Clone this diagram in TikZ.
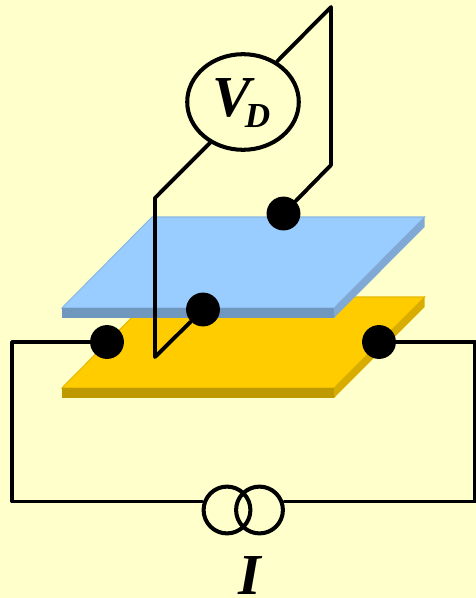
\documentclass[tikz,border=0pt]{standalone}
\usepackage{fontspec}
\setmainfont{Liberation Serif}
\usepackage{xcolor}
\usetikzlibrary{shapes.geometric}

\definecolor{paper}{HTML}{FFFFCC}
\definecolor{bluetop}{HTML}{99CCFF}
\definecolor{blueedge}{HTML}{8AB8E6}
\definecolor{bluefront}{HTML}{7098BF}
\definecolor{blueside}{HTML}{80A9D5}
\definecolor{goldtop}{HTML}{FFCC00}
\definecolor{goldedge}{HTML}{E6B800}
\definecolor{goldfront}{HTML}{BF9900}
\definecolor{goldside}{HTML}{D9AD00}

\tikzset{
    wire/.style={line width=2.2pt, line join=round, line cap=round},
    contact/.style={circle, fill=black, inner sep=0pt, minimum size=34*0.567pt},
    source/.style={circle, draw, line width=2.3pt, inner sep=0pt, minimum size=47*0.567pt},
    plateedge/.style={line width=0.6pt}
}

\begin{document}
\begin{tikzpicture}[x=0.02cm, y=-0.02cm]
    \fill[paper] (0,0) rectangle (476,598);
    \useasboundingbox (0,0) rectangle (476,598);

    \draw[plateedge, goldedge, fill=goldtop] (62,388) -- (152,297) -- (424.5,297) -- (334,388) -- cycle;
    \fill[goldfront] (62,388) rectangle (334,398);
    \fill[goldside] (334,388) -- (424.5,297) -- (424.5,307) -- (334,398) -- cycle;

    \draw[plateedge, blueedge, fill=bluetop] (62,308) -- (152,217) -- (424.5,217) -- (334,308) -- cycle;
    \fill[bluefront] (62,308) rectangle (334,318);
    \fill[blueside] (334,308) -- (424.5,217) -- (424.5,227) -- (334,318) -- cycle;

    \node[contact] (topback) at (283.5,213.5) {};
    \node[contact] (topfront) at (203,309.5) {};
    \node[contact] (botleft) at (107,342) {};
    \node[contact] (botright) at (379,342) {};

    \node[ellipse, draw, line width=2.3pt, inner sep=0pt, minimum width=112*0.567pt, minimum height=96*0.567pt] (meter) at (243,102)
        {\fontsize{33}{33}\selectfont\bfseries\itshape\kern-2pt\smash{\raisebox{-8.5pt}{V}}\kern-3.5pt\smash{\raisebox{-14.7pt}{\fontsize{20}{20}\selectfont D}}};
    \node[source] (srcleft) at (227,510) {};
    \node[source] (srcright) at (259.5,510) {};
    \node[inner sep=0pt, anchor=base] (current) at (250,594) {\fontsize{33}{33}\selectfont\bfseries\itshape I};

    \coordinate (bendfoot) at (155,357);
    \coordinate (bendmid) at (155,198);
    \coordinate (peak) at (331,7);
    \coordinate (drop) at (331,165);
    \coordinate (leftup) at (12,342);
    \coordinate (leftdown) at (12,501.5);
    \coordinate (rightup) at (475,342);
    \coordinate (rightdown) at (475,501.5);

    \draw[wire] (topfront) -- (bendfoot) -- (bendmid) -- (meter.231);
    \draw[wire] (meter.50) -- (peak) -- (drop) -- (topback);
    \draw[wire] (botleft) -- (leftup) -- (leftdown) -- (leftdown -| srcleft.west);
    \draw[wire] (botright) -- (rightup) -- (rightdown) -- (rightdown -| srcright.east);
\end{tikzpicture}
\end{document}
